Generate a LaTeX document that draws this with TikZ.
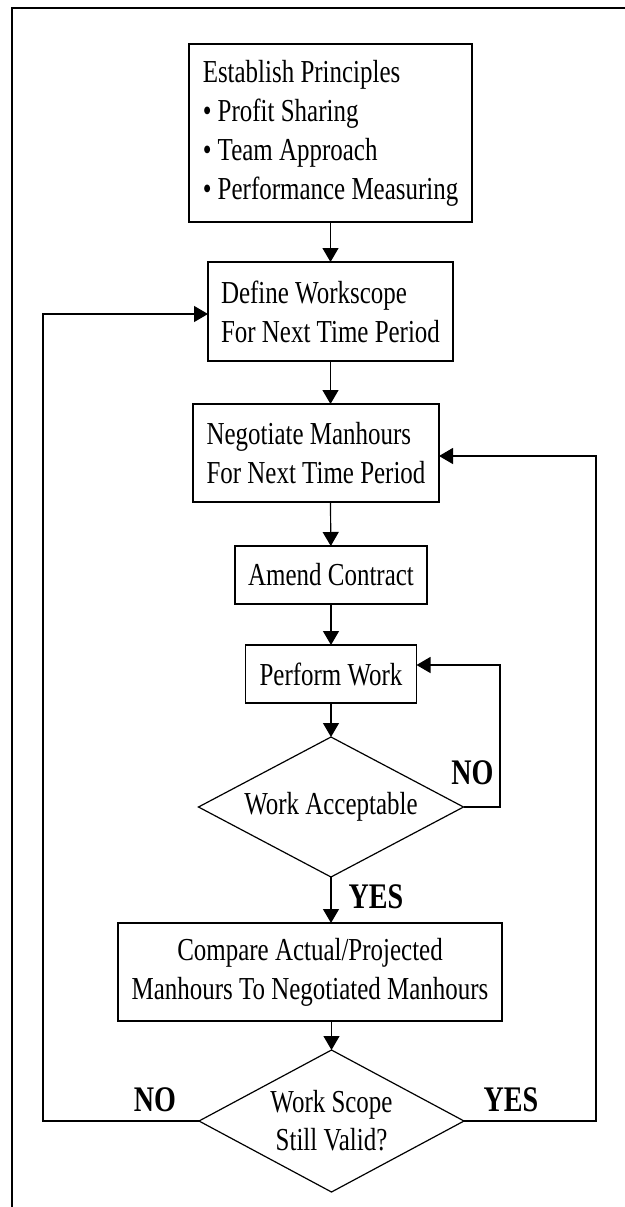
\documentclass[tikz,border=0pt]{standalone}
\usepackage{fontspec}
\setmainfont[FakeStretch=0.78]{Liberation Serif}
\usepackage{tikz}
\usetikzlibrary{shapes.geometric,arrows.meta,positioning}
\tikzstyle{process} = [rectangle, draw=black, line width=1.2pt, inner sep=0pt, outer sep=0pt, align=left, font=\fontsize{32}{39}\selectfont]
\tikzstyle{decision} = [diamond, aspect=1.9, draw=black, line width=1.2pt, inner sep=0pt, outer sep=0pt, align=center, minimum width=265pt, font=\fontsize{32}{38}\selectfont]
\tikzstyle{answer} = [inner sep=0pt, font=\fontsize{36}{40}\selectfont\bfseries]
\tikzstyle{arrow} = [line width=1.2pt,-{Triangle[length=14pt,width=16pt]}]

\begin{document}
\begin{tikzpicture}[x=1pt,y=1pt]
\useasboundingbox (0,0) rectangle (624,-1207);
% frame
\draw[line width=2.6pt] (12,-1230) -- (12,-8) -- (650,-8);
\node (principles) [process, minimum width=283pt, minimum height=178pt] at (330.5,-133) {Establish Principles\\
• Profit Sharing\\
• Team Approach\\
• Performance Measuring};
\node (define) [process, minimum width=245pt, minimum height=99pt, below=40pt of principles] {Define Workscope\\
For Next Time Period};
\node (negotiate) [process, minimum width=246pt, minimum height=98pt, below=43pt of define, xshift=-14.5pt] {Negotiate Manhours\\
For Next Time Period};
\node (amend) [process, minimum width=192pt, minimum height=58pt, below=44pt of negotiate, xshift=15pt] {Amend Contract};
\node (perform) [process, minimum width=171pt, minimum height=58pt, below=41pt of amend] {Perform Work};
\node (accept) [decision, minimum height=140pt, below=34pt of perform] {Work Acceptable};
\node (compare) [process, align=center, minimum width=384pt, minimum height=98pt, below=46pt of accept, xshift=-21pt] {Compare Actual/Projected\\
Manhours To Negotiated Manhours};
\node (valid) [decision, minimum height=142pt, below=29pt of compare, xshift=21.5pt] {Work Scope\\
Still Valid?};
\coordinate (leftrail) at (43,0);
\coordinate (rightrail) at (596,0);
\coordinate (noloop) at (500,0);
\coordinate (definein) at ([yshift=-2.5pt]define.west);
\coordinate (negotiatein) at ([yshift=-3pt]negotiate.east);
\coordinate (performin) at ([yshift=9pt]perform.east);

\draw[arrow] (principles) -- (define);
\draw[arrow] (define.south) -- (define.south |- negotiate.north);
\draw[arrow] (define.south |- negotiate.south) -- (amend);
\draw[arrow] (amend) -- (perform);
\draw[arrow] (perform) -- (accept);
\draw[arrow] (accept.south) -- (accept.south |- compare.north);
\draw[arrow] (valid.north |- compare.south) -- (valid.north);
\draw[arrow] (accept.east) -| (noloop |- performin) -- (performin);
\draw[arrow] (valid.west) -| (leftrail |- definein) -- (definein);
\draw[arrow] (valid.east) -| (rightrail |- negotiatein) -- (negotiatein);

\node (accno) [answer] at ([xshift=9pt,yshift=34pt]accept.east) {NO};
\node (accyes) [answer] at ([xshift=45pt,yshift=-20pt]accept.south) {YES};
\node (validno) [answer] at ([xshift=-44pt,yshift=21pt]valid.west) {NO};
\node (validyes) [answer] at ([xshift=47pt,yshift=21pt]valid.east) {YES};
\end{tikzpicture}
\end{document}
